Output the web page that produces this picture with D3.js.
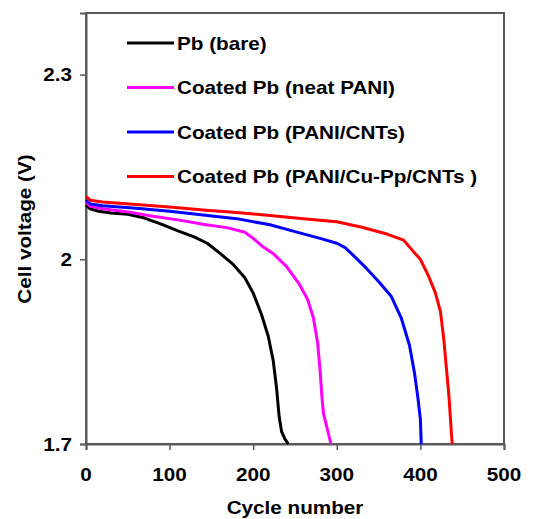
<!DOCTYPE html>
<html><head><meta charset="utf-8">
<script src="https://cdn.jsdelivr.net/npm/d3@7"></script>
<style>body{margin:0;background:#fff}svg{display:block}text{font-family:"Liberation Sans",Arial,sans-serif;font-weight:bold;fill:#000}</style>
</head><body><div id="chart"></div>
<script>
const seriesNames = ["Pb (bare)", "Coated Pb (neat PANI)", "Coated Pb (PANI/CNTs)", "Coated Pb (PANI/Cu-Pp/CNTs )"];
const seriesColors = ["#000000", "#ff00ff", "#0000ff", "#ff0000"];
const xTicks = [0, 100, 200, 300, 400, 500];
const yTicks = [1.7, 2, 2.3];
const pbBare = [[0,2.088],[5,2.082],[15,2.078],[30,2.075],[50,2.073],[70,2.067],[90,2.057],[110,2.046],[130,2.036],[145,2.026],[160,2.010],[175,1.993],[190,1.970],[200,1.945],[210,1.910],[218,1.875],[224,1.835],[228,1.790],[231,1.745],[234,1.720],[238,1.708],[242,1.700]];
const neatPani = [[0,2.094],[5,2.086],[20,2.082],[50,2.077],[80,2.070],[110,2.064],[140,2.057],[170,2.051],[190,2.044],[200,2.034],[210,2.022],[225,2.008],[240,1.988],[255,1.960],[265,1.935],[272,1.905],[277,1.865],[280,1.820],[282,1.780],[284,1.750],[288,1.728],[293,1.700]];
const paniCnt = [[0,2.096],[5,2.090],[20,2.087],[60,2.083],[100,2.078],[140,2.072],[180,2.066],[220,2.056],[250,2.045],[280,2.034],[300,2.026],[310,2.019],[320,2.006],[335,1.986],[350,1.964],[365,1.940],[377,1.905],[387,1.860],[393,1.815],[397,1.775],[400,1.740],[401,1.700]];
const paniCuPpCnt = [[0,2.102],[5,2.096],[20,2.093],[60,2.089],[100,2.085],[140,2.080],[180,2.076],[220,2.071],[260,2.066],[300,2.061],[330,2.052],[360,2.041],[380,2.031],[392,2.012],[400,2.000],[410,1.972],[418,1.945],[424,1.915],[428,1.870],[431,1.825],[434,1.780],[436,1.740],[438,1.700]];
const allSeries = [pbBare, neatPani, paniCnt, paniCuPpCnt];

const W = 534, H = 519;
const m = {left: 86, right: 30, top: 13, bottom: 75};
const svg = d3.select("#chart").append("svg").attr("width", W).attr("height", H);
svg.append("rect").attr("width", W).attr("height", H).attr("fill", "#fff");
const x = d3.scaleLinear().domain([0, 500]).range([m.left, W - m.right]);
const y = d3.scaleLinear().domain([1.7, 2.4]).range([H - m.bottom, m.top]);
const axisColor = "#5a5a5a";
const SX = 1.15;

// box
svg.append("rect").attr("x", x(0)).attr("y", y(2.4)).attr("width", x(500) - x(0)).attr("height", y(1.7) - y(2.4))
  .attr("fill", "none").attr("stroke", axisColor).attr("stroke-width", 2);

const xAxis = svg.append("g").attr("transform", `translate(0,${y(1.7)})`)
  .call(d3.axisBottom(x).tickValues(xTicks).tickSize(6).tickFormat(d3.format("d")));
const yAxis = svg.append("g").attr("transform", `translate(${x(0)},0)`)
  .call(d3.axisLeft(y).tickValues(yTicks).tickSize(6).tickFormat(d => d3.format("")(d)));
[xAxis, yAxis].forEach(a => {
  a.select(".domain").attr("stroke", axisColor).attr("stroke-width", 2);
  a.selectAll(".tick line").attr("stroke", axisColor).attr("stroke-width", 1.5);
  a.selectAll(".tick text").remove();
});
xTicks.forEach(t => {
  svg.append("text").attr("transform", `translate(${x(t)},${y(1.7) + 37}) scale(${SX},1)`)
    .attr("text-anchor", "middle").attr("font-size", 18).text(t);
});
yTicks.forEach(t => {
  svg.append("text").attr("transform", `translate(${x(0) - 14},${y(t) + 6.5}) scale(${SX},1)`)
    .attr("text-anchor", "end").attr("font-size", 18).text(t);
});
svg.append("text").attr("transform", `translate(${(x(0)+x(500))/2},${514}) scale(${SX},1)`)
  .attr("text-anchor", "middle").attr("font-size", 18).text("Cycle number");
svg.append("text").attr("transform", `translate(31,${229}) rotate(-90) scale(${SX},1)`)
  .attr("text-anchor", "middle").attr("font-size", 18).text("Cell voltage (V)");

const line = d3.line().x(d => x(d[0])).y(d => y(d[1]));
allSeries.forEach((s, i) => {
  svg.append("path").datum(s).attr("d", line).attr("fill", "none")
    .attr("stroke", seriesColors[i]).attr("stroke-width", 3).attr("stroke-linejoin", "round");
});

const legY = [43, 87.5, 132, 176.5];
seriesNames.forEach((n, i) => {
  svg.append("line").attr("x1", 127).attr("x2", 174).attr("y1", legY[i]).attr("y2", legY[i])
    .attr("stroke", seriesColors[i]).attr("stroke-width", 3);
  svg.append("text").attr("transform", `translate(177,${legY[i] + 6.5}) scale(${SX},1)`)
    .attr("font-size", 18).text(n);
});
</script></body></html>
